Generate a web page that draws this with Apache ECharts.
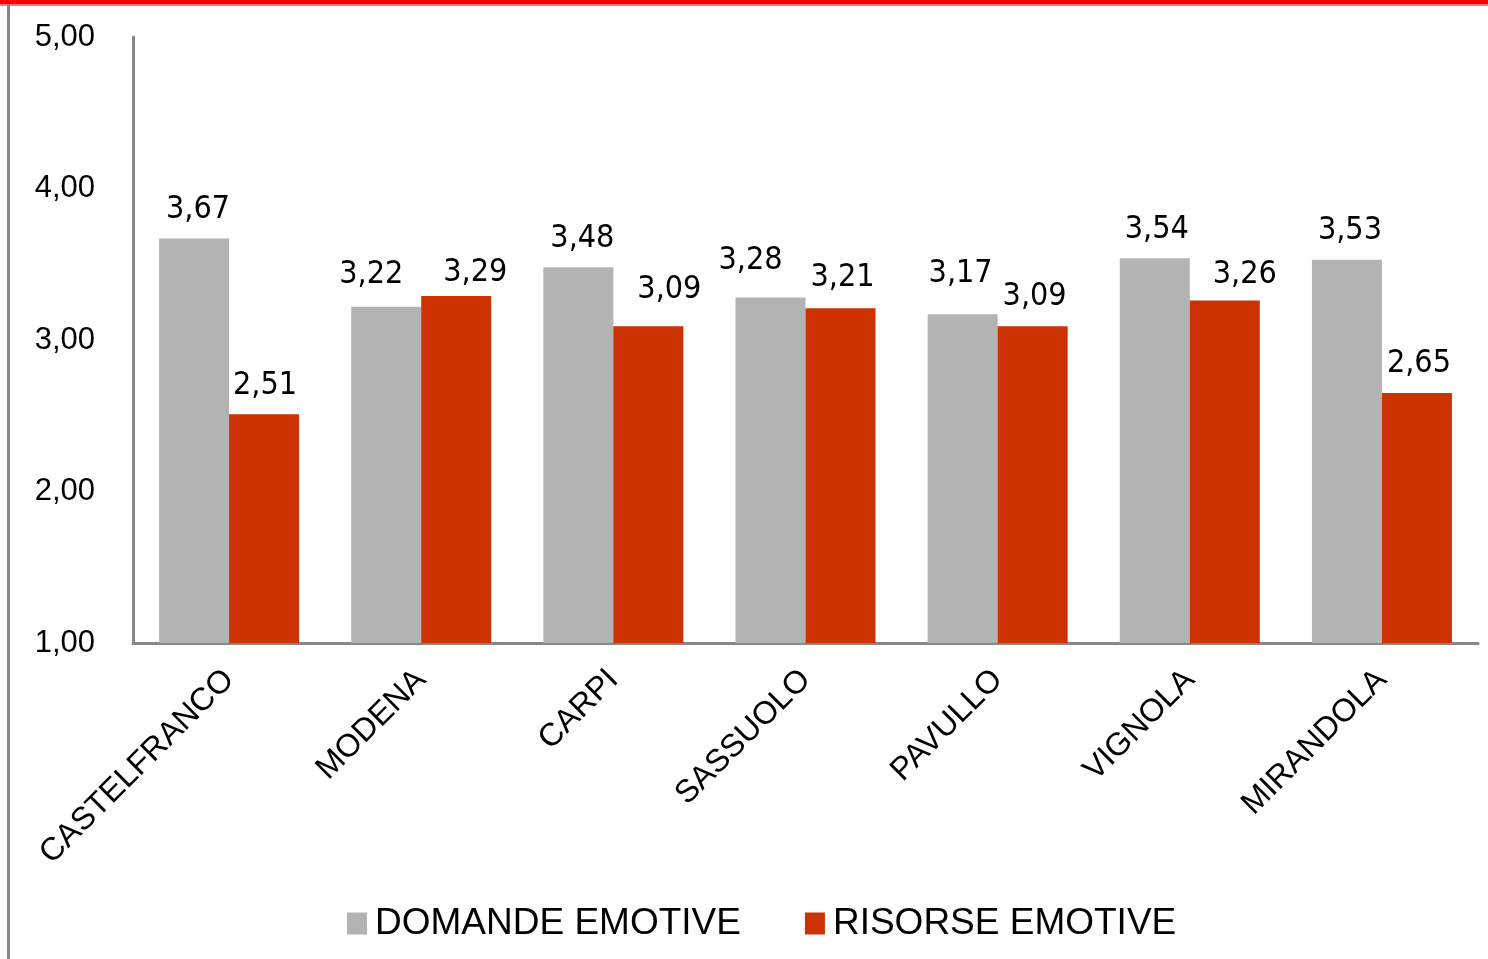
<!DOCTYPE html>
<html>
<head>
<meta charset="utf-8">
<script src="https://cdn.jsdelivr.net/npm/echarts@6/dist/echarts.min.js"></script>
<style>
html,body{margin:0;padding:0;background:#fff;}
#c{width:1488px;height:959px;}
</style>
</head>
<body>
<div id="c"></div>
<script>
const categories = ['CASTELFRANCO','MODENA','CARPI','SASSUOLO','PAVULLO','VIGNOLA','MIRANDOLA'];
const domandeEmotive = [3.67, 3.22, 3.48, 3.28, 3.17, 3.54, 3.53];
const risorseEmotive = [2.51, 3.29, 3.09, 3.21, 3.09, 3.26, 2.65];
const seriesNames = ['DOMANDE EMOTIVE', 'RISORSE EMOTIVE'];
const yMin = 1, yMax = 5, yStep = 1;

// label placement nudges (style only, [dx, dy] in px) as laid out in the original
const labelNudgeA = [[4,0],[-15,-3],[4,0],[-20,-8],[-2,-12],[2,0],[3,0]];
const labelNudgeB = [[1,0],[19,6],[21,-8],[2,-1],[2,-1],[20,3],[2,0]];

const fmt = v => v.toFixed(2).replace('.', ',');
const chart = echarts.init(document.getElementById('c'), null, {renderer: 'canvas'});
const labelStyle = {
  show: true, position: 'top', distance: 13,
  fontFamily: '"DejaVu Sans Condensed", "DejaVu Sans", sans-serif',
  fontSize: 32, color: '#000',
  formatter: p => fmt(p.value)
};
const mk = (vals, nudges) => vals.map((v, i) => ({value: v, label: {offset: nudges[i]}}));
chart.setOption({
  animation: false,
  backgroundColor: '#fff',
  grid: {left: 133, right: 10, top: 37, bottom: 316, containLabel: false},
  legend: {
    data: seriesNames, left: 342, top: 900,
    itemWidth: 20, itemHeight: 22, itemGap: 64,
    icon: 'rect',
    textStyle: {fontFamily: '"Liberation Sans", Arial, sans-serif', fontSize: 37, color: '#000', padding: [0,0,0,3]}
  },
  xAxis: {
    type: 'category', data: categories,
    axisLine: {show: true, lineStyle: {color: '#878787', width: 3}},
    axisTick: {show: false},
    axisLabel: {rotate: 45, margin: 32, interval: 0,
      fontFamily: '"Liberation Sans", Arial, sans-serif', fontSize: 32, color: '#000'}
  },
  yAxis: {
    type: 'value', min: yMin, max: yMax, interval: yStep,
    axisLine: {show: true, lineStyle: {color: '#878787', width: 3}},
    axisTick: {show: false},
    splitLine: {show: false},
    axisLabel: {margin: 38, fontFamily: '"Liberation Sans", Arial, sans-serif', fontSize: 31, color: '#000',
      formatter: v => fmt(v)}
  },
  series: [
    {name: seriesNames[0], type: 'bar', data: mk(domandeEmotive, labelNudgeA), barWidth: 70, barGap: '0%',
      itemStyle: {color: '#B3B3B3'}, label: labelStyle},
    {name: seriesNames[1], type: 'bar', data: mk(risorseEmotive, labelNudgeB), barWidth: 70, barGap: '0%',
      itemStyle: {color: '#CC3300'}, label: labelStyle}
  ],
  graphic: [
    {type: 'rect', shape: {x: 0, y: 0, width: 1488, height: 4}, style: {fill: '#FF0000'}, silent: true},
    {type: 'rect', shape: {x: 0, y: 4, width: 1488, height: 2}, style: {fill: '#E08080'}, silent: true},
    {type: 'rect', shape: {x: 7, y: 4, width: 3, height: 955}, style: {fill: '#878787'}, silent: true}
  ]
});
</script>
</body>
</html>
